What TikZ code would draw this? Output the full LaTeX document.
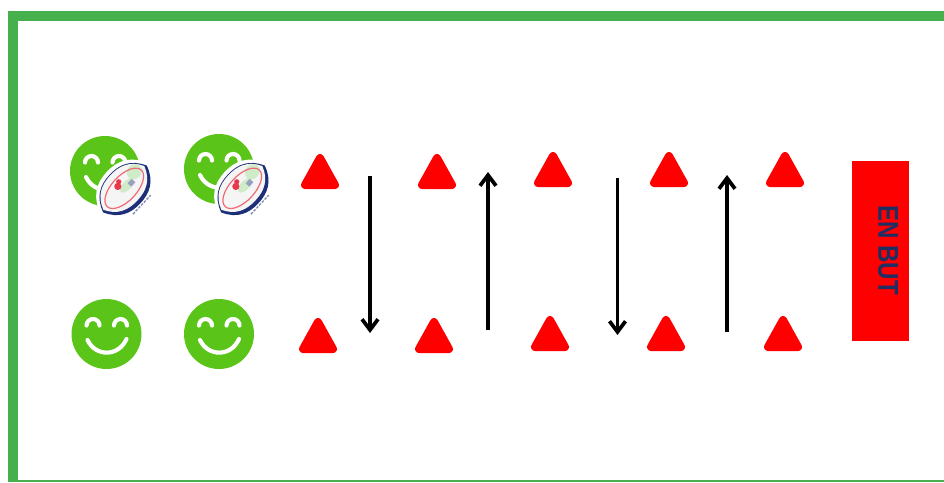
\documentclass[tikz,border=0pt]{standalone}
\usepackage{fontspec}
\setmainfont{Liberation Sans}
\usetikzlibrary{arrows.meta}
\definecolor{framegreen}{HTML}{45B04C}
\definecolor{smile}{HTML}{5AC518}
\definecolor{cone}{HTML}{FF0000}
\definecolor{navy}{HTML}{1F2F63}
\definecolor{ballnavy}{HTML}{1C2F78}
\definecolor{ballred}{HTML}{EE6A74}
\definecolor{balllogo}{HTML}{E8384A}
\definecolor{ballgreen}{HTML}{CFEBC8}
\newcommand{\lensshape}[2]{(-#1,0) .. controls (-#1*0.8,-#2*0.75) and (-#1*0.45,-#2) .. (0,-#2) .. controls (#1*0.45,-#2) and (#1*0.8,-#2*0.75) .. (#1,0) .. controls (#1*0.8,#2*0.75) and (#1*0.45,#2) .. (0,#2) .. controls (-#1*0.45,#2) and (-#1*0.8,#2*0.75) .. cycle}
\tikzset{
  x=0.75pt,y=-0.75pt,
  framebar/.style={fill=framegreen,draw=none},
  conetri/.style={fill=cone,draw=cone,line width=6pt,line join=round},
  runarrow/.style={draw=black,line width=2.8pt,-{Straight Barb[length=8pt,width=12pt,line width=2.8pt]}},
  facestroke/.style={draw=white,line width=3.1pt,line cap=round},
  pics/smiley/.style={code={
    \fill[smile] (0,0) circle (35);
    \draw[facestroke] (-20,-8.5) arc (180:360:6.5);
    \draw[facestroke] (7.5,-8.5) arc (180:360:6.5);
    \draw[facestroke] (-19,6) .. controls (-11,23) and (12,23) .. (20,5);
  }},
  pics/ball/.style={code={
    \begin{scope}[rotate=47]
      \fill[white] \lensshape{35}{25};
      \fill[ballnavy] \lensshape{32}{21};
      \begin{scope}[shift={(0,-1.6)}]
        \fill[white!96!black] \lensshape{30}{18.5};
      \end{scope}
      \fill[ballgreen] (19,-5) ellipse (8 and 7);
      \fill[ballgreen] (4,-1) ellipse (9 and 4.5);
      \draw[ballred,line width=0.9pt] (0,-1) ellipse (25 and 12.5);
      \fill[balllogo] (-3,-7) circle (3.6);
      \fill[balllogo] (1,-9.5) circle (2.6);
      \fill[ballnavy!45] (6,-2) rectangle (12,3);
      \draw[ballnavy!55,line width=1pt,dash pattern=on 2pt off 1pt] (-13,23) -- (13,23);
    \end{scope}
  }}
}
\begin{document}
\begin{tikzpicture}
\useasboundingbox (0,0) rectangle (944,482);
\fill[white] (0,0) rectangle (944,482);
\path[framebar] (7.5,10.5) rectangle (944,21);
\path[framebar] (7.5,10.5) rectangle (18,482);
\path[framebar] (7.5,479.5) rectangle (944,482);
% players
\pic (p1) at (105,171) {smiley};
\pic (p2) at (219,169) {smiley};
\pic (p3) at (106.5,334) {smiley};
\pic (p4) at (219,334) {smiley};
\pic (b1) at (125,189) {ball};
\pic (b2) at (243,189) {ball};
% cones
\foreach \n/\cx/\ty in {t1/320/154,t2/437/154,t3/553/152,t4/669/152,t5/785/152,
                        u1/318/318,u2/434/318,u3/550/316,u4/666/316,u5/783/316}{
  \path[conetri] (\cx,\ty+4) -- (\cx+15,\ty+31) -- (\cx-15,\ty+31) -- cycle;
}
% arrows
\coordinate (a1s) at (370,176); \coordinate (a1e) at (370,333);
\coordinate (a2s) at (488,330); \coordinate (a2e) at (488,172);
\coordinate (a3s) at (617.5,178); \coordinate (a3e) at (617.5,335);
\coordinate (a4s) at (727,332); \coordinate (a4e) at (727,175);
\draw[runarrow] (a1s) -- (a1e);
\draw[runarrow] (a2s) -- (a2e);
\draw[runarrow] (a3s) -- (a3e);
\draw[runarrow] (a4s) -- (a4e);
% in-goal
\fill[cone] (852,161) rectangle (909,341);
\node[rotate=-90,text=navy,font=\bfseries\fontsize{21.5pt}{24pt}\selectfont,inner sep=0pt,xscale=0.84] (butlabel) at (888,250) {EN BUT};
\end{tikzpicture}
\end{document}
